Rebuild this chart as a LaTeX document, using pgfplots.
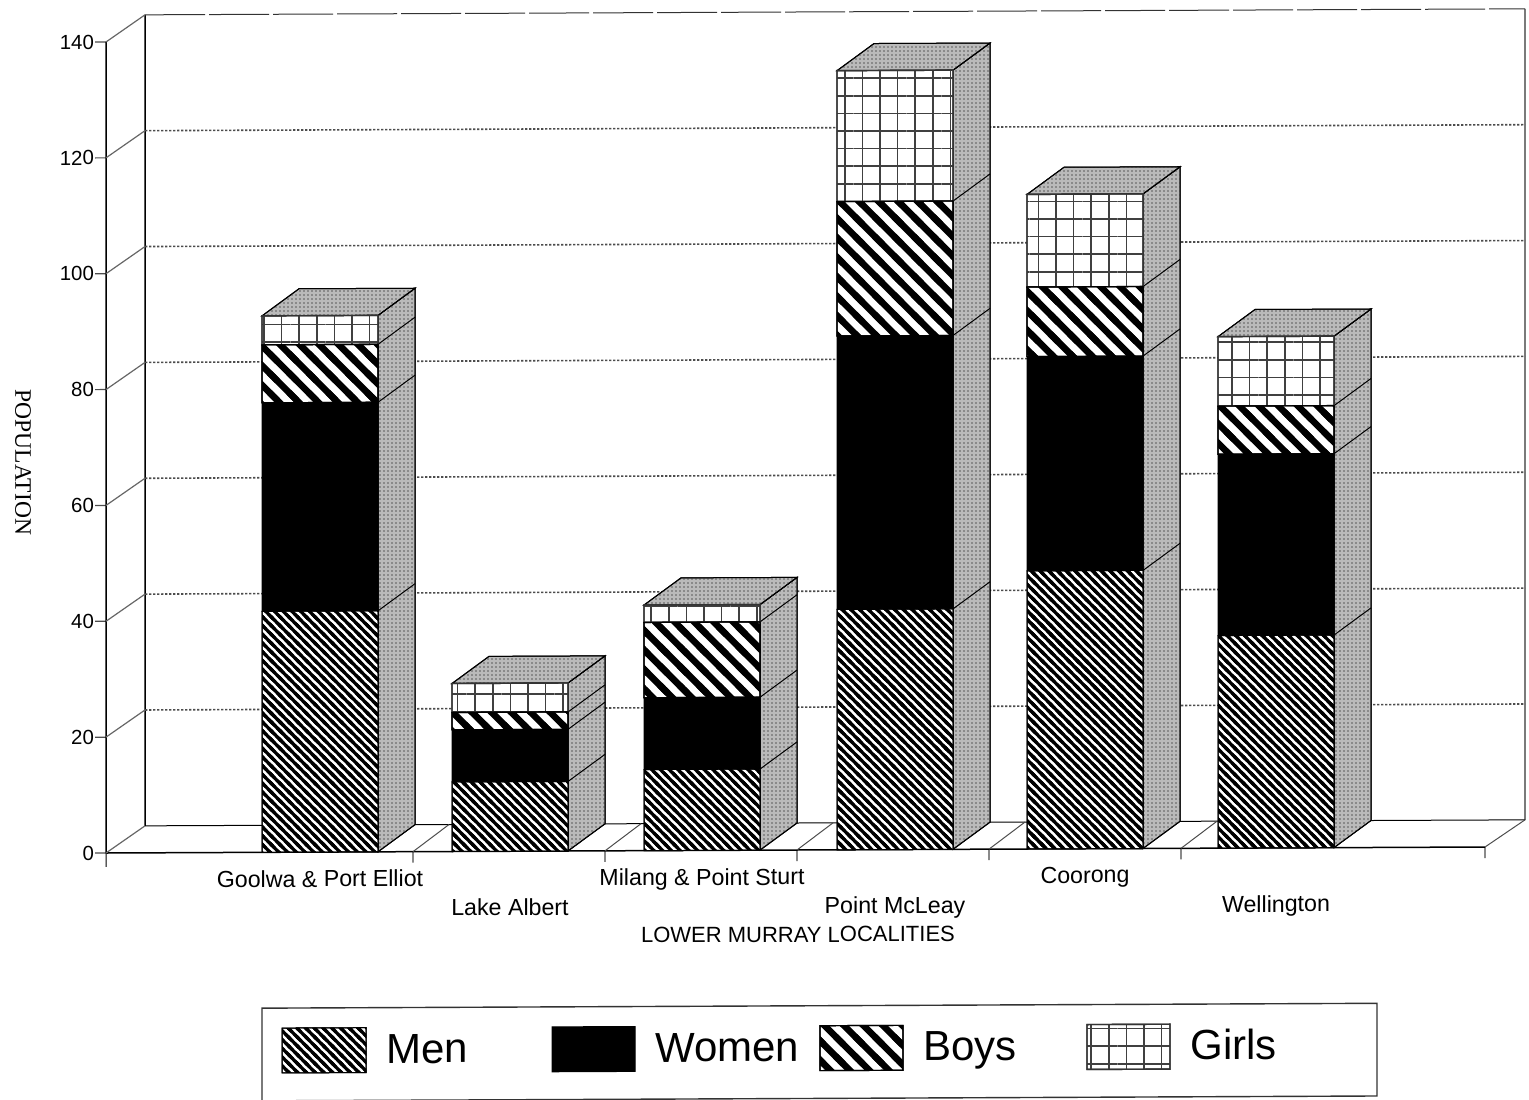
\documentclass[border=0pt]{standalone}
\usepackage{pgfplots}
\usepackage{fontspec}
\setmainfont{Liberation Sans}
\newfontfamily\serifpop{Liberation Serif}
\pgfplotsset{compat=1.18}
\usetikzlibrary{patterns.meta}

% stripe tiles that overlap their neighbours, so no seams cross the stripes
\pgfdeclarepatternformonly{menstripe}{\pgfqpoint{-1pt}{-1pt}}{\pgfqpoint{5.38pt}{5.38pt}}{\pgfqpoint{4.38pt}{4.38pt}}{
  \pgfsetlinewidth{1.6pt}
  \pgfpathmoveto{\pgfqpoint{-2pt}{6.38pt}}\pgfpathlineto{\pgfqpoint{6.38pt}{-2pt}}
  \pgfpathmoveto{\pgfqpoint{-2pt}{2pt}}\pgfpathlineto{\pgfqpoint{2pt}{-2pt}}
  \pgfpathmoveto{\pgfqpoint{2.38pt}{6.38pt}}\pgfpathlineto{\pgfqpoint{6.38pt}{2.38pt}}
  \pgfusepath{stroke}}
\pgfdeclarepatternformonly{boysstripe}{\pgfqpoint{-1pt}{-1pt}}{\pgfqpoint{10.76pt}{10.76pt}}{\pgfqpoint{9.76pt}{9.76pt}}{
  \pgfsetlinewidth{3.3pt}
  \pgfpathmoveto{\pgfqpoint{-2pt}{11.76pt}}\pgfpathlineto{\pgfqpoint{11.76pt}{-2pt}}
  \pgfpathmoveto{\pgfqpoint{-2pt}{2pt}}\pgfpathlineto{\pgfqpoint{2pt}{-2pt}}
  \pgfpathmoveto{\pgfqpoint{7.76pt}{11.76pt}}\pgfpathlineto{\pgfqpoint{11.76pt}{7.76pt}}
  \pgfusepath{stroke}}

\tikzset{legtext/.style={anchor=base west, inner sep=0pt, font=\fontsize{21}{25}\selectfont}}
% empty first line for the labels set one row lower
\newcommand{\lowrow}{\rule{0pt}{8.4pt}\\}

% one axis unit in x is one pixel of the scan, 0.5pt
\pgfplotsset{
  frame/.style={
    scale only axis, width=689.5pt, height=405.5pt,
    xmin=106, xmax=1485, ymin=0, ymax=140,
    enlargelimits=false, clip=false, unbounded coords=jump,
  },
  men/.style={draw=black, line width=.5pt, preaction={fill=white},
    pattern=menstripe, pattern color=black},
  women/.style={draw=black, line width=.5pt, fill=black},
  boys/.style={draw=black, line width=.6pt, preaction={fill=white},
    pattern=boysstripe, pattern color=black},
  girls/.style={draw=black!80, line width=.7pt, preaction={fill=white},
    pattern={Hatch[angle=0,distance=8.8pt,line width=.75pt]}, pattern color=black!75},
  face/.style={draw=black, line width=.5pt, fill=black!27, mark=none,
    postaction={pattern={Dots[distance=2pt,radius=.42pt]}, pattern color=black!65}},
  edge/.style={black, line width=.5pt, mark=none},
}

\begin{document}
\begin{tikzpicture}
\useasboundingbox (-53pt,-123pt) rectangle (711.5pt,426.5pt);
\begin{scope}[yslant=0.00435]

\begin{axis}[frame,
  axis lines=left, axis line style={-, line width=.75pt},
  tick align=outside, major tick length=5.5pt, tick style={line width=.6pt, black!70},
  xtick={413,605,797,989,1181,1485}, xticklabels={},
  ytick={0,20,...,140},
  yticklabel style={font=\fontsize{10.2}{12}\selectfont, xshift=3pt, /pgf/number format/assume math mode=true},
]
% back wall and floor
\addplot[edge, line width=.75pt] coordinates {(145,4.66) (145,144.66)};
\addplot[edge, black!80, dash pattern=on 30pt off 2pt] coordinates {(145,144.66) (1525,144.66)};
\addplot[edge, line width=.7pt, black!80] coordinates {(1525,144.66) (1525,4.66)};
\addplot[edge] coordinates {(145,4.66) (1525,4.66)};
\addplot[edge, black!70] coordinates {(1485,0) (1525,4.66)};
\addplot[edge] coordinates {(106,0) (106,-2.4)};
% grid on the back wall, with the steps up from the front axis
\addplot[edge, black!70, line width=.8pt, dash pattern=on 1.2pt off .8pt] coordinates {(145,24.66) (1525,24.66) (0,nan) (145,44.66) (1525,44.66) (0,nan) (145,64.66) (1525,64.66) (0,nan) (145,84.66) (1525,84.66) (0,nan) (145,104.66) (1525,104.66) (0,nan) (145,124.66) (1525,124.66)};
\addplot[edge, black!60, line width=.6pt] coordinates {(106,0) (145,4.66) (0,nan) (106,20) (145,24.66) (0,nan) (106,40) (145,44.66) (0,nan) (106,60) (145,64.66) (0,nan) (106,80) (145,84.66) (0,nan) (106,100) (145,104.66) (0,nan) (106,120) (145,124.66) (0,nan) (106,140) (145,144.66)};
% floor dividers
\addplot[edge, black!70] coordinates {(413,0) (449,4.66) (0,nan) (605,0) (641,4.66) (0,nan) (797,0) (833,4.66) (0,nan) (989,0) (1025,4.66) (0,nan) (1181,0) (1217,4.66)};

% sides and tops of the bars
\addplot[face] coordinates {(378,0) (415,4.66) (415,97.26) (378,92.6)} --cycle;
\addplot[face] coordinates {(262,92.6) (299,97.26) (415,97.26) (378,92.6)} --cycle;
\addplot[edge] coordinates {(378,41.6) (415,46.26) (0,nan) (378,77.6) (415,82.26) (0,nan) (378,87.6) (415,92.26)};

\addplot[face] coordinates {(568,0) (605,4.66) (605,33.66) (568,29)} --cycle;
\addplot[face] coordinates {(452,29) (489,33.66) (605,33.66) (568,29)} --cycle;
\addplot[edge] coordinates {(568,12) (605,16.66) (0,nan) (568,21) (605,25.66) (0,nan) (568,24) (605,28.66)};

\addplot[face] coordinates {(760,0) (797,4.66) (797,47.06) (760,42.4)} --cycle;
\addplot[face] coordinates {(644,42.4) (681,47.06) (797,47.06) (760,42.4)} --cycle;
\addplot[edge] coordinates {(760,14) (797,18.66) (0,nan) (760,26.4) (797,31.06) (0,nan) (760,39.4) (797,44.06)};

\addplot[face] coordinates {(953,0) (990,4.66) (990,139.16) (953,134.5)} --cycle;
\addplot[face] coordinates {(837,134.5) (874,139.16) (990,139.16) (953,134.5)} --cycle;
\addplot[edge] coordinates {(953,41.5) (990,46.16) (0,nan) (953,88.7) (990,93.36) (0,nan) (953,111.9) (990,116.56)};

\addplot[face] coordinates {(1143,0) (1180,4.66) (1180,117.66) (1143,113)} --cycle;
\addplot[face] coordinates {(1027,113) (1064,117.66) (1180,117.66) (1143,113)} --cycle;
\addplot[edge] coordinates {(1143,48) (1180,52.66) (0,nan) (1143,85) (1180,89.66) (0,nan) (1143,97) (1180,101.66)};

\addplot[face] coordinates {(1334,0) (1371,4.66) (1371,92.96) (1334,88.3)} --cycle;
\addplot[face] coordinates {(1218,88.3) (1255,92.96) (1371,92.96) (1334,88.3)} --cycle;
\addplot[edge] coordinates {(1334,36.7) (1371,41.36) (0,nan) (1334,68) (1371,72.66) (0,nan) (1334,76.3) (1371,80.96)};

% legend box and swatches
\addplot[edge, line width=.7pt, black!80] coordinates {(262,-42.9) (262,-26.9) (1377,-26.9) (1377,-42.9) (262,-42.9)};
\addplot[men, mark=none] coordinates {(282,-30.35) (366,-30.35) (366,-38.1) (282,-38.1)} --cycle;
\addplot[women, mark=none] coordinates {(552,-30.35) (635,-30.35) (635,-38.1) (552,-38.1)} --cycle;
\addplot[boys, mark=none] coordinates {(820,-30.35) (903,-30.35) (903,-38.1) (820,-38.1)} --cycle;
\addplot[girls, mark=none] coordinates {(1087,-30.35) (1170,-30.35) (1170,-38.1) (1087,-38.1)} --cycle;

\node[legtext] at (axis cs:386,-36.5) {Men};
\node[legtext] at (axis cs:655,-36.5) {Women};
\node[legtext] at (axis cs:923,-36.5) {Boys};
\node[legtext] at (axis cs:1190,-36.5) {Girls};

\node[font=\fontsize{11}{13}\selectfont] at (axis cs:798,-14.6) {LOWER MURRAY LOCALITIES};
\node[rotate=-90, font=\serifpop\fontsize{11.8}{13}\selectfont] at (axis cs:23,67.5) {POPULATION};
\end{axis}

\begin{axis}[frame,
  ybar stacked, bar width=116,
  axis line style={draw=none}, major tick length=0pt,
  ytick=\empty,
  xtick={320,510,702,895,1085,1276},
  xticklabels={{Goolwa \& Port Elliot},{\lowrow Lake Albert},{Milang \& Point Sturt},{\lowrow Point McLeay},{Coorong},{\lowrow Wellington}},
  xticklabel style={font=\fontsize{11.6}{14.6}\selectfont, align=center, anchor=north, yshift=-5.5pt},
]
\addplot[men] coordinates {(320,41.6) (510,12) (702,14) (895,41.5) (1085,48) (1276,36.7)};
\addplot[women] coordinates {(320,36) (510,9) (702,12.4) (895,47.2) (1085,37) (1276,31.3)};
\addplot[boys] coordinates {(320,10) (510,3) (702,13) (895,23.2) (1085,12) (1276,8.3)};
\addplot[girls] coordinates {(320,5) (510,5) (702,3) (895,22.6) (1085,16) (1276,12)};
\end{axis}

\end{scope}
\end{tikzpicture}
\end{document}
